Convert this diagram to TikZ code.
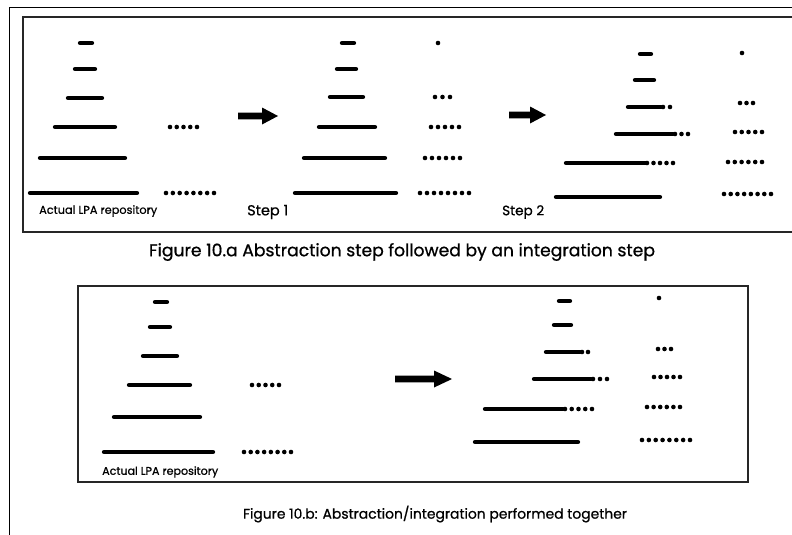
\documentclass[tikz,border=0pt]{standalone}
\usepackage{fontspec}
\setmainfont{Poppins}[FakeBold=0.8]
\newfontfamily\heavyfont{Poppins}[FakeBold=0.8]
\usepackage{graphicx}

% draws #4 evenly spaced dots from x=#1 to x=#2 at height #3
\newcommand\dotrow[4]{%
  \foreach \k in {1,...,#4}{%
    \fill ({#1+(#2-#1)*(\k-1)/max(#4-1,1)},#3) circle (2.3);}}

% block arrow: tail x, head base x, tip x, y
\newcommand\blockarrow[4]{%
  \fill (#1,#4-3.4) -- (#2,#4-3.4) -- (#2,#4-8.5) -- (#3,#4)
        -- (#2,#4+8.5) -- (#2,#4+3.4) -- (#1,#4+3.4) -- cycle;}

\begin{document}
\begin{tikzpicture}[x=1pt,y=-1pt,
  bar/.style={line width=4.3pt,line cap=round},
  frame/.style={line width=1.7pt,draw=black!85},
  label/.style={inner sep=0pt,anchor=west,font=\heavyfont},
  caption/.style={inner sep=0pt,font=\heavyfont}]
\useasboundingbox (0,0) rectangle (792,535);

% page frame
\draw[line width=1pt] (9.5,535) -- (9.5,7.5) -- (792,7.5);

% upper panel frame (open on the right)
\draw[frame] (792,17) -- (23,17) -- (23,232) -- (792,232);

% ---- upper panel: actual repository
\draw[bar] (80,43) -- (92,43);
\draw[bar] (75,69) -- (95,69);
\draw[bar] (68,98) -- (102,98);
\draw[bar] (55,127) -- (115,127);
\draw[bar] (40,158) -- (125,158);
\draw[bar] (30,193) -- (137,193);
\dotrow{170}{197}{127}{5}
\dotrow{166}{214}{193}{8}
\node[label] (repA) at (39,211) {\resizebox{118pt}{!}{Actual LPA repository}};

\blockarrow{238}{262}{278}{116}

% ---- upper panel: step 1 (abstraction)
\draw[bar] (342,43) -- (354,43);
\draw[bar] (337,69) -- (356,69);
\draw[bar] (330,97) -- (363,97);
\draw[bar] (319,127) -- (375,127);
\draw[bar] (304,158) -- (385,158);
\draw[bar] (295,193) -- (396,193);
\dotrow{438}{438}{43}{1}
\dotrow{435}{450}{97}{3}
\dotrow{431}{459}{127}{5}
\dotrow{425}{460}{158}{6}
\dotrow{420}{469}{193}{8}
\node[label] (stepA) at (247,212) {\resizebox{41pt}{!}{Step 1}};

\blockarrow{509}{530}{546}{115}

% ---- upper panel: step 2 (integration)
\draw[bar] (640,54) -- (651,54);
\draw[bar] (635,80) -- (654,80);
\draw[bar] (628,107) -- (661,107);
\dotrow{663}{670}{107}{2}
\draw[bar] (616,134) -- (673,134);
\dotrow{675}{688}{134}{3}
\draw[bar] (566,163) -- (646,163);
\dotrow{647}{673}{163}{5}
\draw[bar] (556,197) -- (660,197);
\dotrow{742}{742}{53}{1}
\dotrow{740}{753}{103}{3}
\dotrow{735}{762}{132}{5}
\dotrow{728}{762}{162}{6}
\dotrow{724}{771}{194}{8}
\node[label] (stepB) at (502,212) {\resizebox{42pt}{!}{Step 2}};

\node[caption] (capA) at (402,252)
  {\resizebox{506pt}{!}{Figure 10.a Abstraction step followed by an integration step}};

% lower panel frame
\draw[line width=1.3pt,draw=black!85] (78,286) rectangle (748,482);

% ---- lower panel: actual repository
\draw[bar] (155,302) -- (167,302);
\draw[bar] (150,327) -- (170,327);
\draw[bar] (143,356) -- (177,356);
\draw[bar] (129,385) -- (190,385);
\draw[bar] (114,417) -- (200,417);
\draw[bar] (104,452) -- (213,452);
\dotrow{252}{279}{385}{5}
\dotrow{244}{291}{452}{8}
\node[label] (repB) at (102,472) {\resizebox{116pt}{!}{Actual LPA repository}};

\blockarrow{395}{434}{452}{379}

% ---- lower panel: combined result
\draw[bar] (559,301) -- (570,301);
\draw[bar] (554,325) -- (571,325);
\draw[bar] (546,352) -- (580,352);
\dotrow{582}{588}{352}{2}
\draw[bar] (534,379) -- (591,379);
\dotrow{593}{607}{379}{3}
\draw[bar] (485,409) -- (563,409);
\dotrow{565}{592}{409}{5}
\draw[bar] (475,442) -- (578,442);
\dotrow{659}{659}{298}{1}
\dotrow{658}{671}{349}{3}
\dotrow{654}{680}{377}{5}
\dotrow{647}{680}{407}{6}
\dotrow{642}{690}{440}{8}

\node[caption] (capB) at (435,514)
  {\resizebox{384pt}{!}{Figure 10.b: Abstraction/integration performed together}};
\end{tikzpicture}
\end{document}
